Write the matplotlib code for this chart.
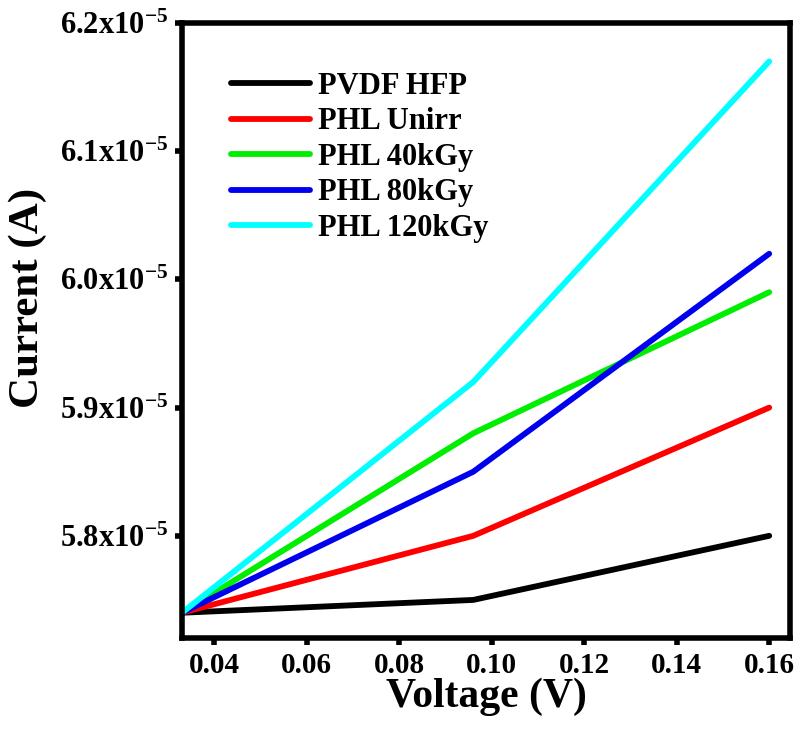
import matplotlib
matplotlib.use("Agg")
import matplotlib.pyplot as plt
from matplotlib.ticker import FixedLocator, FuncFormatter

voltage = [0.033, 0.096, 0.16]
series_names = ["PVDF HFP", "PHL Unirr", "PHL 40kGy", "PHL 80kGy", "PHL 120kGy"]
pvdf_hfp = [5.74e-5, 5.75e-5, 5.80e-5]
phl_unirr = [5.74e-5, 5.80e-5, 5.90e-5]
phl_40 = [5.74e-5, 5.88e-5, 5.99e-5]
phl_80 = [5.74e-5, 5.85e-5, 6.02e-5]
phl_120 = [5.74e-5, 5.92e-5, 6.17e-5]
colors = ["#000000", "#ff0000", "#00ee00", "#0000ee", "#00ffff"]
y_ticks = [5.8e-5, 5.9e-5, 6.0e-5, 6.1e-5, 6.2e-5]
x_ticks = [0.04, 0.06, 0.08, 0.10, 0.12, 0.14, 0.16]

plt.rcParams['font.family'] = ['Liberation Serif', 'DejaVu Serif']
plt.rcParams['font.weight'] = 'bold'
plt.rcParams['mathtext.fontset'] = 'custom'
plt.rcParams['mathtext.rm'] = 'Liberation Serif:bold'
plt.rcParams['mathtext.bf'] = 'Liberation Serif:bold'

fig = plt.figure(figsize=(8, 7.41), dpi=100)
ax = fig.add_axes([0.2275, 0.139, 0.76, 0.830])

for name, vals, c in zip(series_names, [pvdf_hfp, phl_unirr, phl_40, phl_80, phl_120], colors):
    ax.plot(voltage, vals, color=c, lw=4.2, label=name, solid_capstyle='round')

ax.set_xlim(0.033, 0.1645)
ax.set_ylim(5.7203e-5, 6.2e-5)
ax.xaxis.set_major_locator(FixedLocator(x_ticks))
ax.yaxis.set_major_locator(FixedLocator(y_ticks))
ax.xaxis.set_major_formatter(FuncFormatter(lambda v, p: f"{v:.2f}"))
ax.yaxis.set_major_formatter(FuncFormatter(lambda v, p: r"$\mathrm{" + f"{v*1e5:.1f}" + r"x10^{-5}}$"))

for s in ax.spines.values():
    s.set_linewidth(4)
ax.tick_params(direction='out', length=5, width=4, pad=5)
ax.tick_params(axis='x', labelsize=21)
ax.tick_params(axis='y', labelsize=22)
for lab in ax.get_xticklabels() + ax.get_yticklabels():
    lab.set_fontweight('bold')

ax.set_xlabel("Voltage (V)", fontsize=30, fontweight='bold', labelpad=-1)
ax.set_ylabel("Current (A)", fontsize=31, fontweight='bold')
ax.yaxis.set_label_coords(-0.222, 0.553)

leg = ax.legend(loc='upper left', bbox_to_anchor=(0.055, 0.945), frameon=False,
                prop={'size': 22, 'weight': 'bold'}, handlelength=2.6,
                handletextpad=0.25, labelspacing=0.21, borderpad=0)

fig.savefig("out.png", dpi=100)
